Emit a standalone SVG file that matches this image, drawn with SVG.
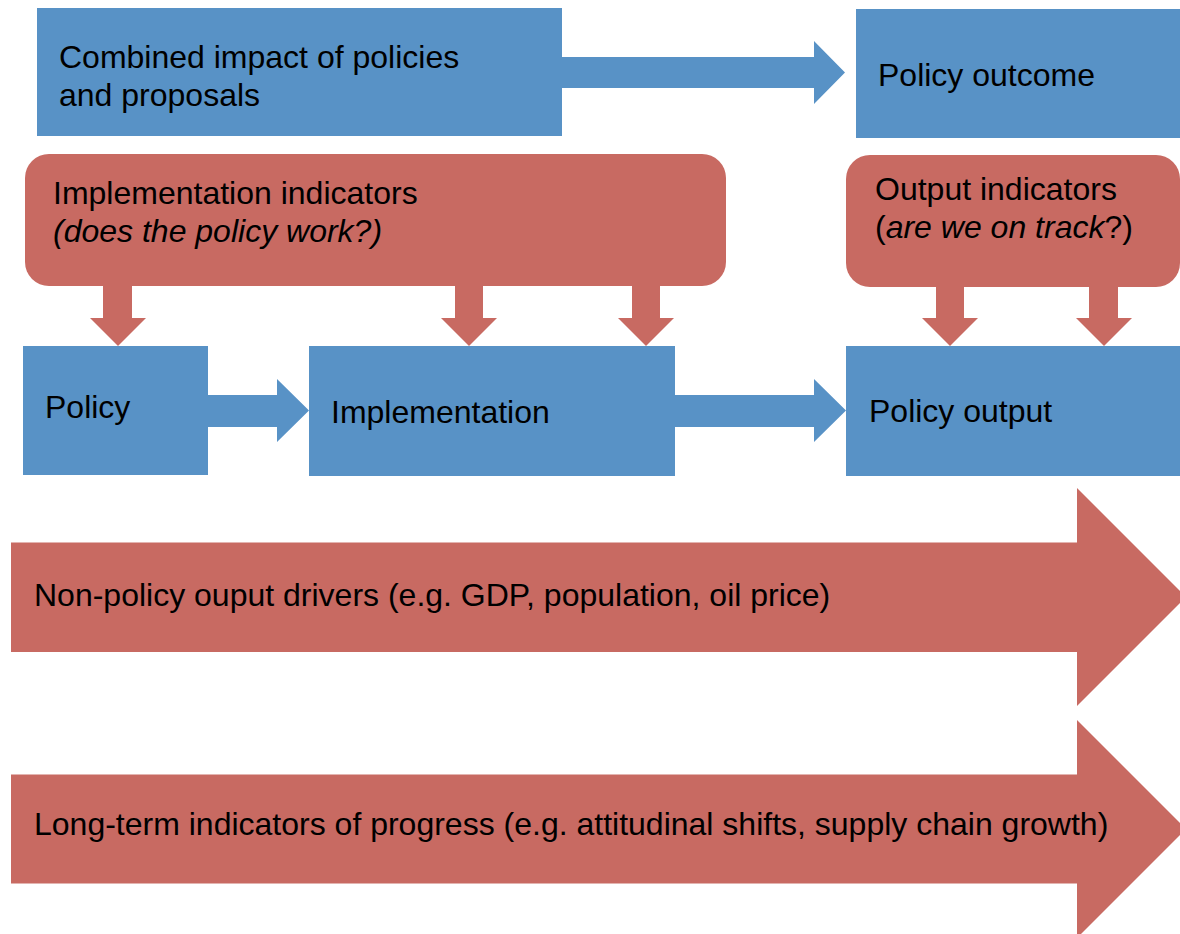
<svg xmlns="http://www.w3.org/2000/svg" width="1180" height="934" viewBox="0 0 1180 934">
<style>
.b{fill:#5892C6}
.r{fill:#C86A62}
text{font-family:"Liberation Sans",Arial,sans-serif;font-size:32px;fill:#000}
.i{font-style:italic}
</style>
<rect width="1180" height="934" fill="#fff"/>
<g id="connectors">
<polygon class="b" points="562,57 814,57 814,41 845,72.5 814,104 814,88 562,88"/>
<polygon class="b" points="208,395 277,395 277,379 309,410.5 277,442 277,427 208,427"/>
<polygon class="b" points="675,395 814,395 814,379 846,410.5 814,442 814,427 675,427"/>
<polygon class="r" points="103,286 132,286 132,318 146,318 118,346 90,318 103,318"/>
<polygon class="r" points="455,286 483,286 483,318 497,318 469,346 441,318 455,318"/>
<polygon class="r" points="632,286 660,286 660,318 674,318 646,346 618,318 632,318"/>
<polygon class="r" points="936,286 964,286 964,318 978,318 950,346 922,318 936,318"/>
<polygon class="r" points="1089,286 1118,286 1118,318 1132,318 1104,346 1076,318 1089,318"/>
</g>
<g id="combined">
<rect class="b" x="37" y="8" width="525" height="128"/>
<text x="59" y="68">Combined impact of policies</text>
<text x="59" y="106">and proposals</text>
</g>
<g id="outcome">
<rect class="b" x="856" y="9" width="324" height="129"/>
<text x="878" y="86">Policy outcome</text>
</g>
<g id="impl-indicators">
<rect class="r" x="25" y="154" width="701" height="132" rx="24"/>
<text x="53" y="204">Implementation indicators</text>
<text x="53" y="242" class="i">(does the policy work?)</text>
</g>
<g id="output-indicators">
<rect class="r" x="846" y="155" width="334" height="132" rx="24"/>
<text x="875" y="200">Output indicators</text>
<text x="875" y="238">(<tspan class="i">are we on track</tspan>?)</text>
</g>
<g id="policy">
<rect class="b" x="23" y="346" width="185" height="129"/>
<text x="45" y="418">Policy</text>
</g>
<g id="implementation">
<rect class="b" x="309" y="346" width="366" height="130"/>
<text x="331" y="423">Implementation</text>
</g>
<g id="output">
<rect class="b" x="846" y="346" width="334" height="130"/>
<text x="869" y="422">Policy output</text>
</g>
<g id="non-policy">
<polygon class="r" points="11,542.5 1077,542.5 1077,488 1186,597 1077,706 1077,652 11,652"/>
<text x="34" y="606">Non-policy ouput drivers (e.g. GDP, population, oil price)</text>
</g>
<g id="long-term">
<polygon class="r" points="11,774.5 1077,774.5 1077,720 1186,829 1077,938 1077,883.5 11,883.5"/>
<text x="34" y="835">Long-term indicators of progress (e.g. attitudinal shifts, supply chain growth)</text>
</g>
</svg>
